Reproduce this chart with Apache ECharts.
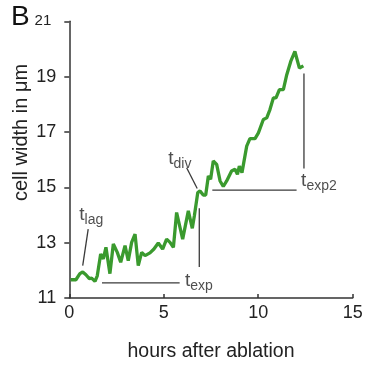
<!DOCTYPE html>
<html>
<head>
<meta charset="utf-8">
<script src="https://cdn.jsdelivr.net/npm/echarts@6/dist/echarts.min.js"></script>
<style>html,body{margin:0;padding:0;background:#fff}#c{width:366px;height:367px}</style>
</head>
<body>
<div id="c"></div>
<script>
// Measured cell width over time (hours, µm)
var hours = [0.07,0.35,0.56,0.71,0.88,1.06,1.18,1.36,1.48,1.66,1.80,1.94,2.15,2.33,2.54,2.72,2.95,3.12,3.30,3.48,3.65,3.83,4.01,4.27,4.48,4.71,4.94,5.15,5.33,5.51,5.68,6.00,6.30,6.51,6.62,6.80,6.92,7.09,7.22,7.36,7.48,7.62,7.80,7.98,8.15,8.33,8.59,8.77,8.90,9.00,9.14,9.39,9.56,9.83,10.01,10.27,10.45,10.62,10.80,10.94,11.12,11.33,11.51,11.72,11.94,12.18,12.39];
var width = [11.66,11.66,11.88,11.94,11.84,11.70,11.72,11.60,11.80,12.59,12.41,12.83,11.88,12.95,12.65,12.29,12.89,12.35,13.01,13.31,12.17,12.65,12.53,12.63,12.77,12.99,12.77,13.13,13.01,12.83,14.09,13.13,14.15,13.52,13.97,14.81,14.87,14.72,14.72,15.41,15.29,15.95,15.83,15.23,15.03,15.23,15.59,15.65,15.47,15.77,15.53,16.49,16.76,16.76,16.97,17.45,17.51,17.81,18.23,18.23,18.53,18.53,19.07,19.55,19.91,19.31,19.39];

var xTicks = [0, 5, 10, 15];
var yTicks = [11, 13, 15, 17, 19, 21];

// Annotation segments [[x1,y1],[x2,y2]]
var lagLeader = [[1.00, 13.49], [0.71, 12.17]];
var expHoriz = [[1.73, 11.55], [5.84, 11.55]];
var expVert = [[6.88, 14.24], [6.88, 12.12]];
var divLeader = [[6.21, 15.71], [6.77, 14.96]];
var exp2Horiz = [[7.57, 14.90], [12.03, 14.90]];
var exp2Vert = [[12.42, 19.11], [12.42, 15.68]];

// Annotation labels [x, y, subscript]
var annLabels = [[0.53, 14.01, 'lag'], [5.24, 16.02, 'div'], [6.12, 11.63, 'exp'], [12.27, 15.24, 'exp2']];

var FONT = '"Liberation Sans", Arial, sans-serif';
var chart = echarts.init(document.getElementById('c'));

function seg(d) {
  return {type:'line', data:d, symbol:'none', silent:true, z:1,
    lineStyle:{color:'#3a3a3a', width:1.3}};
}

chart.setOption({
  animation:false,
  grid:{left:69.3, right:13.3, top:21.3, bottom:67.7, containLabel:false},
  xAxis:{
    type:'value', min:0, max:15, interval:5,
    name:'hours after ablation', nameLocation:'middle', nameGap:44,
    nameTextStyle:{fontFamily:FONT, fontSize:19.5, color:'#222'},
    axisLine:{show:true, lineStyle:{color:'#333', width:1.5}},
    axisTick:{show:true, inside:true, length:4, lineStyle:{color:'#333', width:1.5}},
    axisLabel:{fontFamily:FONT, fontSize:18, color:'#222', margin:6,
      formatter:function(v){return xTicks.indexOf(v)>=0? String(v):'';}},
    splitLine:{show:false}
  },
  yAxis:{
    type:'value', min:11, max:21, interval:2,
    axisLine:{show:true, lineStyle:{color:'#333', width:1.5}},
    axisTick:{show:true, inside:false, length:5, lineStyle:{color:'#333', width:1.5}},
    axisLabel:{fontFamily:FONT, fontSize:18, color:'#222', margin:13,
      formatter:function(v){
        if (yTicks.indexOf(v)<0) return '';
        return v===21 ? '{s|'+v+'}' : String(v);
      },
      rich:{s:{fontFamily:FONT, fontSize:15, color:'#222', padding:[0,5,0,0]}}},
    splitLine:{show:false}
  },
  graphic:[
    {type:'text', left:11, top:3, style:{text:'B', font:'28px '+FONT, fill:'#111'}},
    {type:'text', x:21, y:132.5, rotation:Math.PI/2,
      style:{text:'cell width in μm', font:'20px '+FONT, fill:'#222', align:'center', verticalAlign:'middle'}}
  ],
  series:[
    {type:'line', data:hours.map(function(h,i){return [h,width[i]];}), symbol:'none', z:3,
      lineStyle:{color:'#3a9a2e', width:3.3}},
    seg(lagLeader), seg(expHoriz), seg(expVert), seg(divLeader), seg(exp2Horiz), seg(exp2Vert),
    {type:'scatter', symbolSize:0, z:4, silent:true,
      data:annLabels.map(function(a){return {value:[a[0],a[1]], sub:a[2]};}),
      label:{show:true, position:[0,0], align:'left', verticalAlign:'middle',
        formatter:function(p){return '{t|t}{s|'+p.data.sub+'}';},
        rich:{
          t:{fontFamily:FONT, fontSize:19, lineHeight:19, color:'#222', verticalAlign:'top'},
          s:{fontFamily:FONT, fontSize:14, lineHeight:14, color:'#222', verticalAlign:'top', padding:[8,0,0,0]}
        }}
    }
  ]
});
</script>
</body>
</html>
